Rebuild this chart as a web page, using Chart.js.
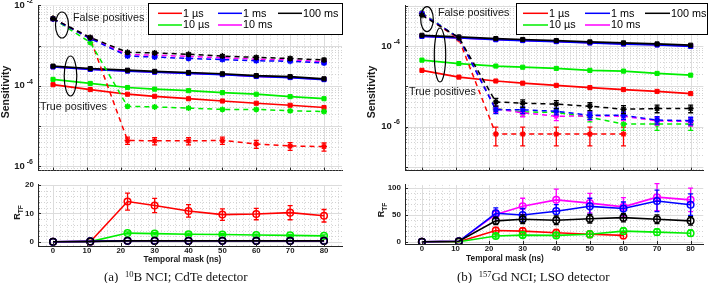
<!DOCTYPE html>
<html>
<head>
<meta charset="utf-8">
<script src="https://cdn.jsdelivr.net/npm/chart.js@4.4.1/dist/chart.umd.min.js"></script>
<style>
  body { margin: 0; background: #fff; }
  #wrap { position: relative; width: 709px; height: 283px; overflow: hidden; }
  #wrap canvas { position: absolute; }
  .caption { position: absolute; top: 270px; font: 13px "Liberation Serif", "DejaVu Serif", serif; color: #111; white-space: nowrap; line-height: 14px; }
  .caption sup { font-size: 8.5px; vertical-align: 4px; line-height: 0; }
</style>
</head>
<body>
<div id="wrap">
  <canvas id="cdte-sens" width="355" height="176" style="left:0;top:0"></canvas>
  <canvas id="cdte-ratio" width="355" height="107" style="left:0;top:176px"></canvas>
  <canvas id="gd-sens" width="354" height="176" style="left:355px;top:0"></canvas>
  <canvas id="gd-ratio" width="354" height="107" style="left:355px;top:176px"></canvas>
  <div class="caption" style="left:104px">(a)&nbsp; <sup>10</sup>B NCI; CdTe detector</div>
  <div class="caption" style="left:457px">(b)&nbsp; <sup>157</sup>Gd NCI; LSO detector</div>
</div>
<script>
const maskNs = [0, 11, 22, 30, 40, 50, 60, 70, 80];
const maskTicks = [0, 10, 20, 30, 40, 50, 60, 70, 80];
const series = ['1 µs', '10 µs', '1 ms', '10 ms', '100 ms'];

// every table below: one row per entry of `series`, one column per maskNs
const cdteTrue = [
  [1.07e-4, 8.1e-5, 6.2e-5, 5.5e-5, 4.8e-5, 4.2e-5, 3.7e-5, 3.3e-5, 2.9e-5],
  [1.45e-4, 1.15e-4, 9.1e-5, 8.3e-5, 7.6e-5, 6.8e-5, 6.2e-5, 5.4e-5, 4.8e-5],
  [2.95e-4, 2.57e-4, 2.33e-4, 2.19e-4, 2.04e-4, 1.9e-4, 1.71e-4, 1.61e-4, 1.43e-4],
  [2.98e-4, 2.6e-4, 2.36e-4, 2.21e-4, 2.07e-4, 1.92e-4, 1.73e-4, 1.63e-4, 1.45e-4],
  [3.1e-4, 2.7e-4, 2.45e-4, 2.3e-4, 2.15e-4, 2.0e-4, 1.8e-4, 1.7e-4, 1.5e-4]
];
const cdteFalse = [
  [4.7e-3, 1.5e-3, 4.4e-6, 4.3e-6, 4.3e-6, 4.4e-6, 3.6e-6, 3.2e-6, 3.1e-6],
  [4.7e-3, 1.2e-3, 3.1e-5, 3.0e-5, 2.8e-5, 2.6e-5, 2.6e-5, 2.4e-5, 2.3e-5],
  [4.6e-3, 1.5e-3, 5.5e-4, 5.2e-4, 4.8e-4, 4.5e-4, 4.2e-4, 4.1e-4, 3.7e-4],
  [4.65e-3, 1.55e-3, 6.0e-4, 5.8e-4, 5.4e-4, 5.0e-4, 4.6e-4, 4.4e-4, 4.0e-4],
  [4.7e-3, 1.6e-3, 6.8e-4, 6.6e-4, 6.1e-4, 5.5e-4, 5.1e-4, 4.8e-4, 4.4e-4]
];
const cdteFalseErr = [
  [0, 0, 0.9e-6, 0.9e-6, 0.9e-6, 0.9e-6, 0.8e-6, 0.7e-6, 0.7e-6],
  [0, 0, 1.5e-6, 1.5e-6, 1.4e-6, 1.3e-6, 1.3e-6, 1.3e-6, 1.3e-6],
  [0, 0, 3e-5, 3e-5, 3e-5, 3e-5, 3e-5, 3e-5, 3e-5],
  [0, 0, 3e-5, 3e-5, 3e-5, 3e-5, 3e-5, 3e-5, 3e-5],
  [2e-4, 8e-5, 4e-5, 4e-5, 4e-5, 4e-5, 4e-5, 4e-5, 4e-5]
];
const cdteRatio = [
  [0.02, 0.05, 14.2, 12.8, 10.9, 9.6, 9.8, 10.3, 9.2],
  [0.03, 0.1, 3.1, 2.9, 2.7, 2.6, 2.4, 2.3, 2.1],
  [0.06, 0.17, 0.42, 0.42, 0.42, 0.42, 0.41, 0.39, 0.39],
  [0.06, 0.17, 0.39, 0.38, 0.38, 0.38, 0.38, 0.37, 0.36],
  [0.07, 0.17, 0.36, 0.35, 0.35, 0.36, 0.35, 0.35, 0.34]
];
const cdteRatioErr = [
  [0, 0, 3, 2.5, 2.2, 2, 2, 2.5, 2.2],
  [0, 0, 0.4, 0.4, 0.4, 0.35, 0.35, 0.35, 0.35],
  [0, 0, 0, 0, 0, 0, 0, 0, 0],
  [0, 0, 0, 0, 0, 0, 0, 0, 0],
  [0, 0, 0, 0, 0, 0, 0, 0, 0]
];

const gdTrue = [
  [2.5e-5, 1.7e-5, 1.36e-5, 1.2e-5, 1.06e-5, 9.3e-6, 8.3e-6, 7.5e-6, 6.6e-6],
  [4.5e-5, 3.7e-5, 3.2e-5, 3.0e-5, 2.8e-5, 2.5e-5, 2.4e-5, 2.1e-5, 1.9e-5],
  [1.75e-4, 1.6e-4, 1.45e-4, 1.38e-4, 1.3e-4, 1.2e-4, 1.13e-4, 1.07e-4, 9.9e-5],
  [1.78e-4, 1.62e-4, 1.48e-4, 1.4e-4, 1.32e-4, 1.22e-4, 1.15e-4, 1.09e-4, 1.01e-4],
  [1.87e-4, 1.7e-4, 1.55e-4, 1.47e-4, 1.38e-4, 1.28e-4, 1.21e-4, 1.14e-4, 1.06e-4]
];
const gdFalse = [
  [6.4e-4, 1.5e-4, 6.5e-7, 6.5e-7, 6.5e-7, 6.5e-7, 6.5e-7, null, null],
  [6.8e-4, 1.6e-4, 2.8e-6, 2.3e-6, 2.25e-6, 1.7e-6, 1.15e-6, 1.15e-6, 1.15e-6],
  [6.5e-4, 1.6e-4, 2.6e-6, 2.6e-6, 2.4e-6, 1.9e-6, 1.9e-6, 1.45e-6, 1.4e-6],
  [6.6e-4, 1.6e-4, 2.75e-6, 2.2e-6, 1.8e-6, 1.85e-6, 1.8e-6, 1.38e-6, 1.33e-6],
  [5.9e-4, 1.64e-4, 4.1e-6, 3.8e-6, 3.6e-6, 3.2e-6, 2.7e-6, 2.8e-6, 2.8e-6]
];
const gdFalseErr = [
  [0, 0, 3.2e-7, 3.2e-7, 3.2e-7, 3.2e-7, 3.2e-7, null, null],
  [0, 0, 0.5e-6, 0.5e-6, 0.45e-6, 0.4e-6, 0.35e-6, 0.35e-6, 0.35e-6],
  [0, 0, 0.5e-6, 0.5e-6, 0.45e-6, 0.4e-6, 0.4e-6, 0.3e-6, 0.3e-6],
  [0, 0, 0.5e-6, 0.45e-6, 0.4e-6, 0.4e-6, 0.4e-6, 0.3e-6, 0.3e-6],
  [0, 0, 0.9e-6, 0.8e-6, 0.8e-6, 0.7e-6, 0.6e-6, 0.6e-6, 0.6e-6]
];
const gdRatio = [
  [0.04, 0.1, 21, 20, 17, 14, 12, null, null],
  [0.07, 0.2, 11, 12.5, 12, 14, 20, 18, 16],
  [0.3, 1, 53, 50, 57, 66, 62, 76, 69],
  [0.3, 1, 51, 66, 78, 72, 65, 83, 78],
  [0.3, 1, 39, 42, 40, 43, 45, 42, 39]
];
const gdRatioErr = [
  [0, 0, 6, 6, 6, 6, 6, null, null],
  [0, 0, 4, 5, 5, 6, 6, 6, 6],
  [0, 0, 10, 12, 12, 15, 12, 20, 20],
  [0, 0, 8, 15, 20, 18, 17, 25, 22],
  [0, 0, 7, 8, 8, 8, 8, 8, 8]
];

const colors = ['#ff0000', '#00ee00', '#0000ff', '#ff00ff', '#000000'];
const drawOrder = [4, 3, 1, 2, 0];   // black drawn last (on top)
const axisColor = '#262626';
const FONT = '"Liberation Sans", Arial, sans-serif';

function points(vals) {
  return vals.map((v, i) => ({ x: maskNs[i], y: v }));
}

function sensDatasets(trueRows, falseRows, falseErr) {
  const sets = [];
  series.forEach((name, k) => {
    sets.push({
      label: name + ' true', data: points(trueRows[k]),
      borderColor: colors[k], backgroundColor: colors[k], borderWidth: 1.7,
      pointStyle: 'rect', pointRadius: 2.9, pointBorderWidth: 1, order: drawOrder[k] + 5
    });
    sets.push({
      label: name + ' false', data: points(falseRows[k]), errors: falseErr[k],
      borderColor: colors[k], backgroundColor: colors[k], borderWidth: 1.5, borderDash: [5, 4],
      pointStyle: 'star', pointRadius: 3, pointBorderWidth: 1.4, order: drawOrder[k]
    });
  });
  return sets;
}

function ratioDatasets(rows, errs) {
  return series.map((name, k) => ({
    label: name, data: points(rows[k]), errors: errs[k],
    borderColor: colors[k], backgroundColor: 'rgba(0,0,0,0)', borderWidth: 1.6,
    pointStyle: 'circle', pointRadius: 3.3, pointBorderWidth: 1.5, order: drawOrder[k]
  }));
}

function steps(from, to, step, skip) {
  const out = [];
  for (let v = from; v <= to + 1e-9; v += step) {
    if (Math.abs(v / skip - Math.round(v / skip)) > 1e-6) out.push(v);
  }
  return out;
}
function logMinor(d0, d1) {
  const out = [];
  for (let d = d0; d <= d1; d++) for (let m = 2; m <= 9; m++) out.push(m * Math.pow(10, d));
  return out;
}
function decades(d0, d1) {
  const out = [];
  for (let d = d0; d <= d1; d++) out.push(Math.pow(10, d));
  return out;
}

function errorBars(chart, index) {
  const ds = chart.data.datasets[index];
  if (!ds.errors) return;
  const { ctx, scales: { x, y } } = chart;
  ctx.save();
  ctx.strokeStyle = ds.borderColor;
  ctx.lineWidth = 1.3;
  ds.data.forEach((pt, i) => {
    const e = ds.errors[i];
    if (pt.y == null || !e) return;
    const px = x.getPixelForValue(pt.x);
    const top = y.getPixelForValue(pt.y + e);
    const bot = y.getPixelForValue(Math.max(pt.y - e, y.min));
    ctx.beginPath();
    ctx.moveTo(px, top); ctx.lineTo(px, bot);
    ctx.moveTo(px - 2.5, top); ctx.lineTo(px + 2.5, top);
    ctx.moveTo(px - 2.5, bot); ctx.lineTo(px + 2.5, bot);
    ctx.stroke();
  });
  ctx.restore();
}

function panelPlugin(spec) {
  return {
    id: 'panelDecor',
    beforeDatasetsDraw(chart) {
      const { ctx, chartArea: a, scales: { x, y } } = chart;
      ctx.save();
      ctx.beginPath();
      ctx.rect(a.left, a.top, a.right - a.left, a.bottom - a.top);
      ctx.clip();
      const vline = v => {
        const p = Math.round(x.getPixelForValue(v)) + 0.5;
        ctx.beginPath(); ctx.moveTo(p, a.top); ctx.lineTo(p, a.bottom); ctx.stroke();
      };
      const hline = v => {
        const p = Math.round(y.getPixelForValue(v)) + 0.5;
        ctx.beginPath(); ctx.moveTo(a.left, p); ctx.lineTo(a.right, p); ctx.stroke();
      };
      ctx.lineWidth = 0.8;
      ctx.strokeStyle = '#c8c8c8';
      ctx.setLineDash([1, 2]);
      spec.xMinor.forEach(vline);
      spec.yMinor.forEach(hline);
      ctx.setLineDash([]);
      ctx.lineWidth = 1;
      ctx.strokeStyle = '#dcdcdc';
      spec.xMajor.forEach(vline);
      spec.yMajor.forEach(hline);
      ctx.restore();
    },
    afterDatasetDraw(chart, args) {
      errorBars(chart, args.index);
    },
    afterDraw(chart) {
      const { ctx, chartArea: a, scales: { x, y } } = chart;
      ctx.save();
      ctx.strokeStyle = axisColor;
      ctx.lineWidth = 1;
      ctx.beginPath();
      spec.xMajor.forEach(v => {
        const p = Math.round(x.getPixelForValue(v)) + 0.5;
        ctx.moveTo(p, a.bottom); ctx.lineTo(p, a.bottom - 3);
      });
      spec.yMajor.forEach(v => {
        const p = Math.round(y.getPixelForValue(v)) + 0.5;
        if (p < a.top - 1 || p > a.bottom + 1) return;
        ctx.moveTo(a.left, p); ctx.lineTo(a.left + 3, p);
      });
      spec.yMinor.forEach(v => {
        const p = Math.round(y.getPixelForValue(v)) + 0.5;
        if (p < a.top || p > a.bottom) return;
        ctx.moveTo(a.left, p); ctx.lineTo(a.left + 1.5, p);
      });
      ctx.stroke();
      ctx.restore();
      if (spec.extra) spec.extra(chart);
    }
  };
}

function powerLabels(chart, exps) {
  const { ctx, chartArea: a, scales: { y } } = chart;
  ctx.save();
  ctx.fillStyle = '#1a1a1a';
  ctx.textBaseline = 'middle';
  ctx.textAlign = 'right';
  exps.forEach(e => {
    const py = y.getPixelForValue(Math.pow(10, e));
    const right = a.left - 5;
    const sup = String(e);
    ctx.font = 'bold 7px ' + FONT;
    ctx.fillText(sup, right, py - 4);
    const w = ctx.measureText(sup).width;
    ctx.font = 'bold 9.5px ' + FONT;
    ctx.fillText('10', right - w - 2, py);
  });
  ctx.restore();
}

function rotatedTitle(ctx, text, cx, cy) {
  ctx.save();
  ctx.translate(cx, cy);
  ctx.rotate(-Math.PI / 2);
  ctx.font = 'bold 10.5px ' + FONT;
  ctx.fillStyle = '#1a1a1a';
  ctx.textAlign = 'center';
  ctx.textBaseline = 'middle';
  ctx.fillText(text, 0, 0);
  ctx.restore();
}

function ratioTitle(ctx, cx, cy) {
  ctx.save();
  ctx.translate(cx, cy);
  ctx.rotate(-Math.PI / 2);
  ctx.fillStyle = '#1a1a1a';
  ctx.textBaseline = 'alphabetic';
  ctx.font = 'bold 9px ' + FONT;
  const wR = ctx.measureText('R').width;
  ctx.font = 'bold 6.5px ' + FONT;
  const wS = ctx.measureText('TF').width;
  const start = -(wR + wS) / 2;
  ctx.font = 'bold 9px ' + FONT;
  ctx.fillText('R', start, 3);
  ctx.font = 'bold 6.5px ' + FONT;
  ctx.fillText('TF', start + wR, 5.5);
  ctx.restore();
}

function xTitle(ctx, cx, cy) {
  ctx.save();
  ctx.font = 'bold 8.3px ' + FONT;
  ctx.fillStyle = '#1a1a1a';
  ctx.textAlign = 'center';
  ctx.textBaseline = 'middle';
  ctx.fillText('Temporal mask (ns)', cx, cy);
  ctx.restore();
}

function legendBox(ctx, box, colStarts, rows, lineLen) {
  ctx.save();
  ctx.fillStyle = '#fff';
  ctx.fillRect(box.x, box.y, box.w, box.h);
  ctx.strokeStyle = '#000';
  ctx.lineWidth = 1;
  ctx.strokeRect(box.x + 0.5, box.y + 0.5, box.w, box.h);
  ctx.font = '10.8px ' + FONT;
  ctx.textBaseline = 'middle';
  ctx.textAlign = 'left';
  series.forEach((name, k) => {
    const x0 = colStarts[Math.floor(k / 2)];
    const y0 = rows[k % 2];
    ctx.strokeStyle = colors[k];
    ctx.lineWidth = 1.5;
    ctx.beginPath(); ctx.moveTo(x0, y0); ctx.lineTo(x0 + lineLen, y0); ctx.stroke();
    ctx.fillStyle = '#000';
    ctx.fillText(name, x0 + lineLen + 1, y0 + 0.5);
  });
  ctx.restore();
}

function note(ctx, text, x, y) {
  ctx.save();
  ctx.font = '10.8px ' + FONT;
  ctx.fillStyle = '#1a1a1a';
  ctx.textBaseline = 'middle';
  ctx.fillText(text, x, y);
  ctx.restore();
}
function ellipse(ctx, cx, cy, rx, ry) {
  ctx.save();
  ctx.strokeStyle = '#000';
  ctx.lineWidth = 1.2;
  ctx.beginPath();
  ctx.ellipse(cx, cy, rx, ry, 0, 0, Math.PI * 2);
  ctx.stroke();
  ctx.restore();
}

function makeChart(id, area, datasets, yScale, xRange, showX, spec) {
  const canvas = document.getElementById(id);
  const W = canvas.width, H = canvas.height;
  yScale.grid = { display: false, drawTicks: false };
  yScale.border = { display: true, color: axisColor, width: 1 };
  yScale.afterFit = s => { s.width = area.l; };
  return new Chart(canvas, {
    type: 'line',
    data: { datasets },
    options: {
      responsive: false,
      animation: false,
      devicePixelRatio: 1,
      layout: { padding: { left: 0, top: area.t, right: W - area.r, bottom: 0 } },
      plugins: { legend: { display: false }, tooltip: { enabled: false } },
      scales: {
        x: {
          type: 'linear', min: xRange[0], max: xRange[1],
          grid: { display: false, drawTicks: false },
          border: { display: true, color: axisColor, width: 1 },
          ticks: { display: showX, padding: 0, color: '#1a1a1a', font: { family: FONT, size: 7.8, weight: 'bold' } },
          afterBuildTicks: s => { s.ticks = maskTicks.map(v => ({ value: v })); },
          afterFit: s => { s.height = H - area.b; }
        },
        y: yScale
      }
    },
    plugins: [panelPlugin(spec)]
  });
}

const xMinor = steps(-4, 84, 2, 10);

// (a) CdTe sensitivity
makeChart('cdte-sens', { l: 38, t: 5, r: 342, b: 171 },
  sensDatasets(cdteTrue, cdteFalse, cdteFalseErr),
  { type: 'logarithmic', min: Math.pow(10, -6.106), max: 1e-2, ticks: { display: false } },
  [-4.43, 85.31], false,
  {
    xMajor: maskTicks, xMinor, yMajor: decades(-6, -2), yMinor: logMinor(-7, -3),
    extra(chart) {
      const ctx = chart.ctx;
      powerLabels(chart, [-2, -4, -6]);
      rotatedTitle(ctx, 'Sensitivity', 6, 92);
      legendBox(ctx, { x: 148, y: 3, w: 194, h: 31 }, [158, 218, 278], [13.3, 25], 24);
      ellipse(ctx, 62, 25, 6.5, 13);
      ellipse(ctx, 70.5, 76, 6.3, 20);
      note(ctx, 'False positives', 73, 18.5);
      note(ctx, 'True positives', 40, 107.5);
    }
  });

// (a) CdTe ratio
makeChart('cdte-ratio', { l: 38, t: 6, r: 342, b: 70 },
  ratioDatasets(cdteRatio, cdteRatioErr),
  {
    type: 'linear', min: -1.45, max: 20.1,
    ticks: { padding: 4, color: '#1a1a1a', font: { family: FONT, size: 8, weight: 'bold' } },
    afterBuildTicks: s => { s.ticks = [0, 10, 20].map(v => ({ value: v })); }
  },
  [-4.43, 85.31], true,
  {
    xMajor: maskTicks, xMinor, yMajor: [0, 10, 20], yMinor: steps(-2, 20, 2, 10),
    extra(chart) {
      ratioTitle(chart.ctx, 17, 36.5);
      xTitle(chart.ctx, 182.5, 83.5);
    }
  });

// (b) Gd sensitivity
makeChart('gd-sens', { l: 50, t: 5, r: 350, b: 171 },
  sensDatasets(gdTrue, gdFalse, gdFalseErr),
  { type: 'logarithmic', min: Math.pow(10, -7.098), max: Math.pow(10, -2.984), ticks: { display: false } },
  [-5.04, 83.85], false,
  {
    xMajor: maskTicks, xMinor, yMajor: decades(-7, -3), yMinor: logMinor(-8, -3),
    extra(chart) {
      const ctx = chart.ctx;
      powerLabels(chart, [-4, -6]);
      rotatedTitle(ctx, 'Sensitivity', 17, 92);
      legendBox(ctx, { x: 161, y: 3, w: 191, h: 31 }, [168, 230, 290], [13.3, 25], 25);
      ellipse(ctx, 72, 19.2, 6.3, 12.5);
      ellipse(ctx, 85, 55, 5.7, 27);
      note(ctx, 'False positives', 83, 13);
      note(ctx, 'True positives', 54, 92);
    }
  });

// (b) Gd ratio
makeChart('gd-ratio', { l: 50, t: 7, r: 350, b: 68 },
  ratioDatasets(gdRatio, gdRatioErr),
  {
    type: 'linear', min: -4, max: 106,
    ticks: { padding: 4, color: '#1a1a1a', font: { family: FONT, size: 8, weight: 'bold' } },
    afterBuildTicks: s => { s.ticks = [0, 50, 100].map(v => ({ value: v })); }
  },
  [-5.04, 83.85], true,
  {
    xMajor: maskTicks, xMinor, yMajor: [0, 50, 100], yMinor: steps(-10, 100, 10, 50),
    extra(chart) {
      ratioTitle(chart.ctx, 26, 34);
      xTitle(chart.ctx, 150, 83);
    }
  });
</script>
</body>
</html>
